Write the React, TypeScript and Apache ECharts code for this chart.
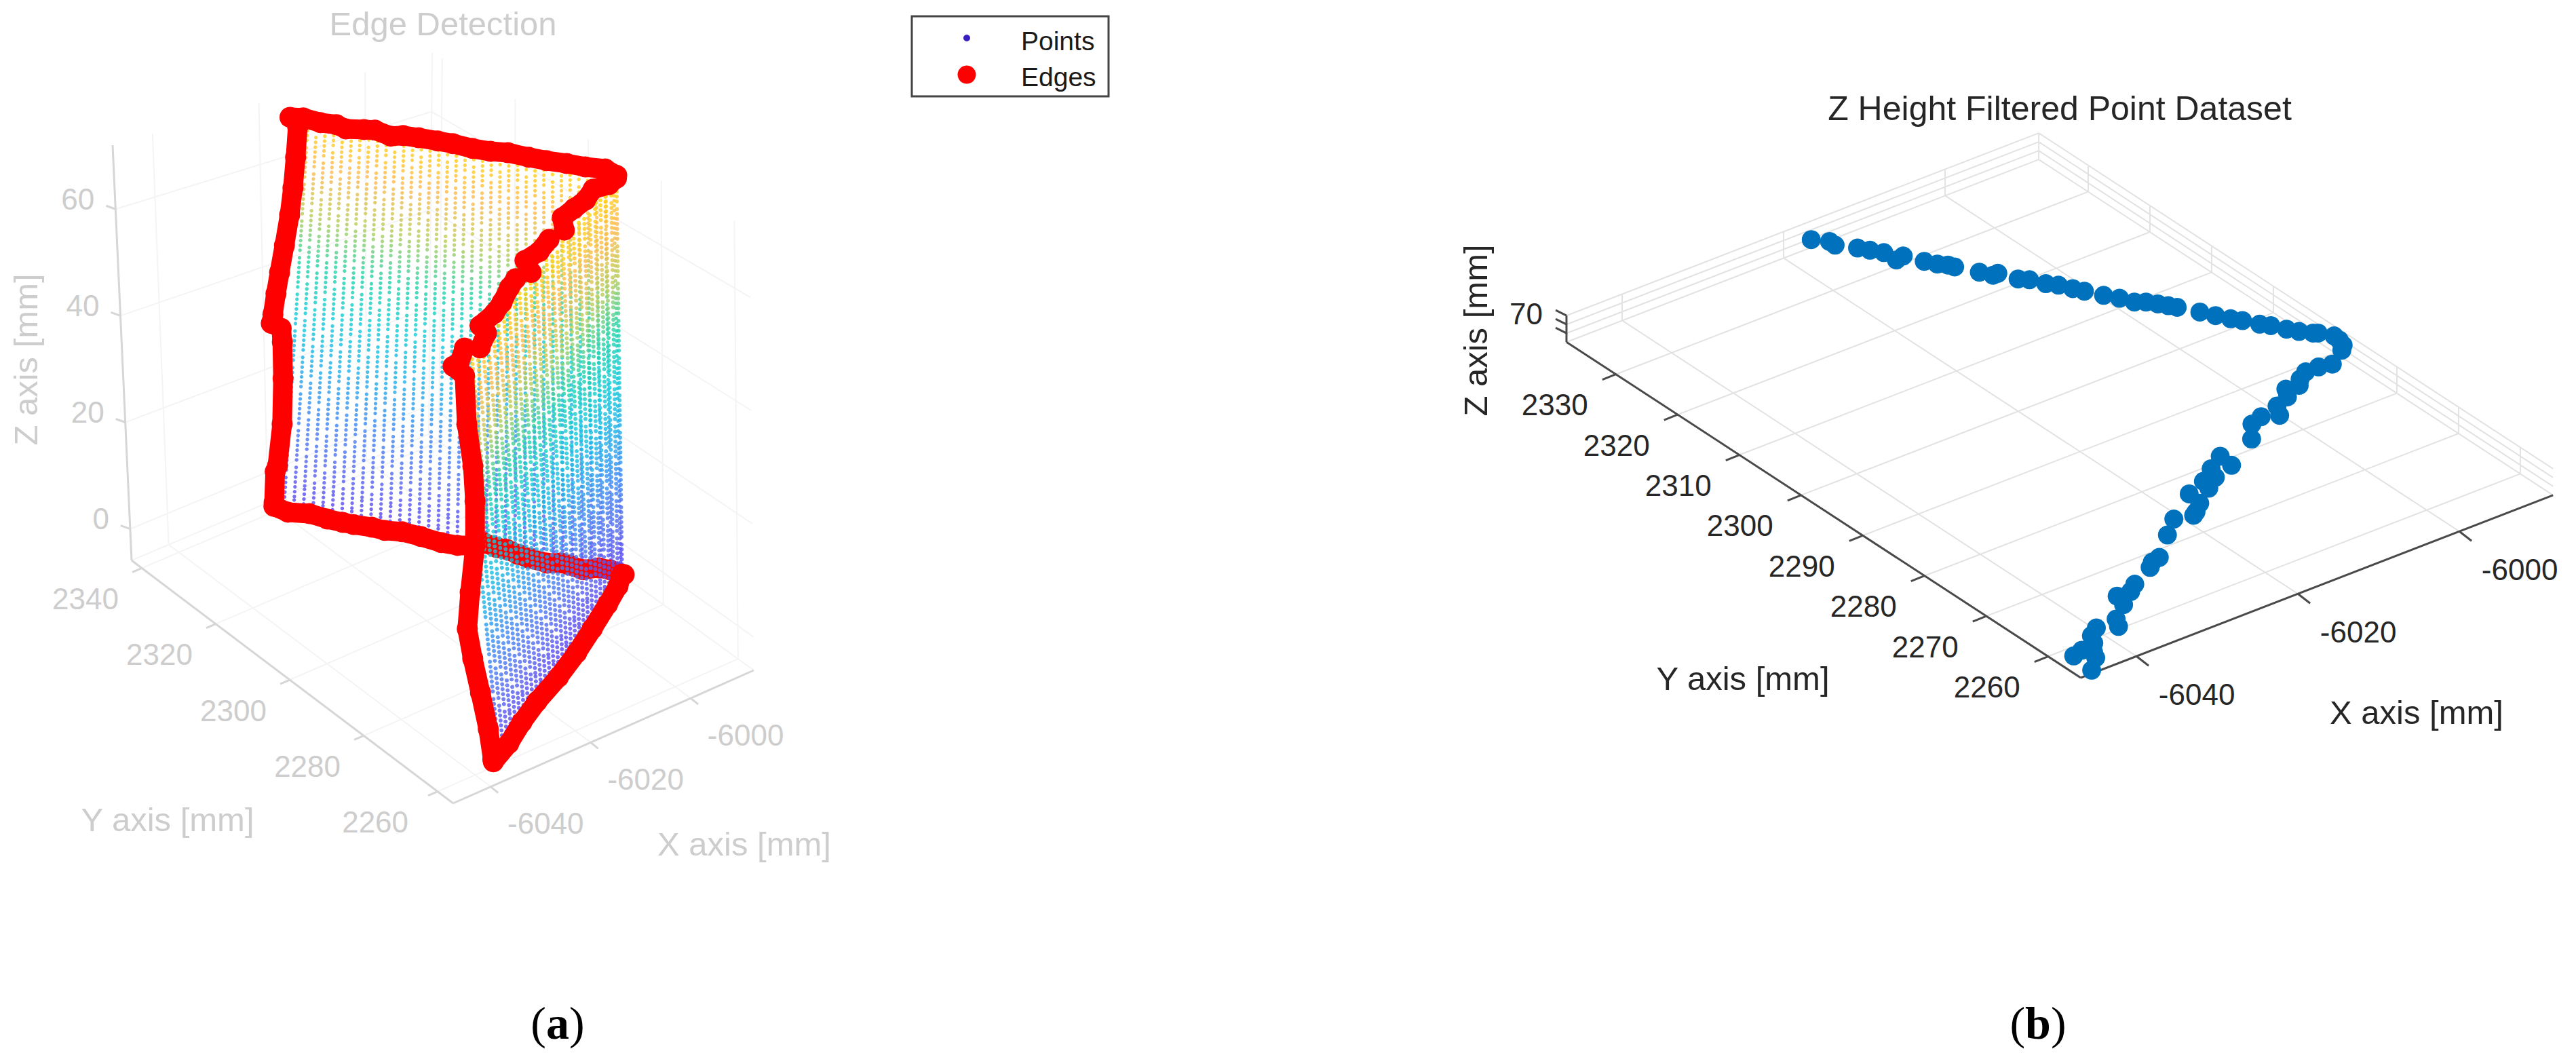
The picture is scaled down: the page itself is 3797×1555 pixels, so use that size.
import React, { useEffect, useRef } from "react";
import * as echarts from "echarts";

type P3 = [number, number, number];
type P2 = [number, number];

const PAGE_W = 3797;
const PAGE_H = 1555;

// ---- Panel (a): tick labels ----
const aXTicks = [-6040, -6020, -6000];
const aYTicks = [2260, 2280, 2300, 2320, 2340];
const aZTicks = [0, 20, 40, 60];

// ---- Panel (a): edge points [x mm, y mm, z mm] ----
const edgeOneTop: P3[] = [
  [-6017.2, 2335.9, 68], [-6015.6, 2334.5, 68], [-6014.2, 2331.7, 68], [-6012.5, 2329.7, 68], [-6012.0, 2327.8, 68],
  [-6009.8, 2325.9, 68], [-6008.5, 2324.7, 68], [-6007.5, 2321.8, 68], [-6005.8, 2320.7, 68], [-6004.2, 2318.7, 68],
  [-6002.3, 2316.1, 68], [-6000.8, 2314.0, 68], [-5999.1, 2311.0, 68], [-5997.3, 2308.6, 68], [-5995.3, 2306.6, 68],
  [-5993.4, 2303.5, 68], [-5991.7, 2301.0, 68], [-5989.6, 2298.4, 68], [-5987.8, 2295.8, 68], [-5985.6, 2293.4, 68],
  [-5985.2, 2290.8, 68],
];
const edgeOneLeft: P3[] = [
  [-6015.7, 2336, 65.5], [-6016.4, 2336, 60.1], [-6017.2, 2336, 54.7], [-6018.1, 2336, 50.0], [-6019.4, 2336, 44.8],
  [-6020.6, 2336, 40.2], [-6021.5, 2336, 36.6], [-6022.3, 2336, 33.0], [-6022.7, 2336, 31.5], [-6020.8, 2336, 29.8],
  [-6020.7, 2336, 27.2], [-6020.9, 2336, 20.4], [-6021.5, 2336, 12.1], [-6022.8, 2336, 4.8], [-6023.3, 2336, 3.9],
  [-6023.8, 2336, -1.7],
];
const edgeOneBottom: P3[] = [
  [-6025.9, 2333.1, 0], [-6025.1, 2330.4, 0], [-6022.6, 2328.0, 0], [-6021.2, 2325.0, 0], [-6019.8, 2322.7, 0],
  [-6018.8, 2321.2, 0], [-6016.9, 2318.8, 0], [-6015.8, 2316.8, 0], [-6013.8, 2314.8, 0], [-6012.2, 2311.9, 0],
  [-6010.6, 2308.5, 0], [-6009.0, 2306.3, 0], [-6006.4, 2304.3, 0], [-6005.2, 2304.3, 0], [-6004.3, 2301.9, 0],
  [-6003.4, 2300.6, 0], [-6002.8, 2298.4, 0], [-6002.0, 2296.4, 0], [-6000.5, 2293.5, 0], [-5998.7, 2292.2, 0],
  [-5998.0, 2290.9, 0], [-5997.0, 2288.5, 0], [-5994.7, 2287.4, 0], [-5993.6, 2285.8, 0], [-5992.6, 2283.4, 0],
];
const edgeTwoTopA: P3[] = [
  [-5985.7, 2290.2, 68], [-5987.7, 2289.5, 68], [-5990.5, 2290.0, 68], [-5993.3, 2288.3, 68], [-5996.2, 2287.5, 68],
  [-5999.2, 2286.6, 68], [-6001.0, 2283.6, 68],
];
const edgeTwoTopB: P3[] = [
  [-6004.5, 2283.0, 68], [-6007.8, 2281.2, 68], [-6011.1, 2280.6, 68], [-6012.3, 2277.3, 68],
];
const edgeTwoTopC: P3[] = [
  [-6015.3, 2277.4, 68], [-6017.6, 2276.0, 68], [-6021.0, 2273.4, 68], [-6023.8, 2271.7, 68], [-6027.7, 2270.3, 68],
  [-6028.1, 2268.0, 68], [-6031.4, 2265.3, 68],
];
const edgeTwoVertical: P3[] = [
  [-6033.4, 2266.8, 68], [-6036.7, 2263.8, 68], [-6037.9, 2263.8, 68], [-6037.0, 2262, 66.8], [-6037.0, 2262, 57.7],
  [-6036.2, 2262, 49.5], [-6036.1, 2262, 42.9], [-6036.5, 2262, 34.7], [-6037.9, 2262, 26.5], [-6038.8, 2262, 20.0],
  [-6038.0, 2262, 14.1], [-6036.8, 2262, 7.2], [-6035.6, 2262, -0.1], [-6035.0, 2262, -6.0],
];
const edgeTwoBottom: P3[] = [
  [-5992.8, 2283.7, 0], [-5995.3, 2281.4, 0], [-5999.7, 2278.3, 0], [-6005.7, 2274.3, 0], [-6011.7, 2270.4, 0],
  [-6018.1, 2266.7, 0], [-6024.9, 2263.3, 0], [-6030.3, 2260.1, 0], [-6035.5, 2256.6, 0], [-6040.5, 2254.0, 0],
];

// ---- Panel (a): the dense point cloud. Its thousands of dots cannot be read one by one, so it
// is sampled on a scan lattice: wall end points read off the picture, plus the stations and
// heights listed here. It reproduces the look of the cloud, not each individual dot. ----
const wallOneBottomEnds: [P2, P2] = [[-6025.0, 2332.5], [-5992.6, 2283.4]];
const wallOneTopEnds: [P2, P2] = [[-6015.2, 2334.5], [-5985.2, 2290.8]];
const wallOneStations = [
  0.01, 0.038, 0.066, 0.094, 0.122, 0.15, 0.178, 0.206, 0.234, 0.262, 0.29, 0.318, 0.346, 0.374, 0.402, 0.43, 0.458,
  0.486, 0.514, 0.542, 0.57, 0.598, 0.626, 0.654, 0.682, 0.71, 0.738, 0.766, 0.794, 0.822, 0.85, 0.878, 0.906, 0.934,
  0.962, 0.99,
];
const wallTwoBottomEnds: [P2, P2] = [[-5992.8, 2283.7], [-6040.5, 2254.0]];
const wallTwoTopEnds: [P2, P2] = [[-5985.7, 2290.2], [-6037.9, 2263.8]];
const wallTwoStations = [
  0.0, 0.033, 0.066, 0.099, 0.132, 0.165, 0.198, 0.231, 0.264, 0.297, 0.33, 0.363, 0.396, 0.429, 0.462, 0.495, 0.528,
  0.561, 0.594, 0.627, 0.66, 0.693, 0.726, 0.759, 0.792, 0.825, 0.858, 0.891, 0.924, 0.957,
];
const scanHeights = [
  0.0, 0.85, 1.7, 2.55, 3.4, 4.25, 5.1,
  6.4, 7.25, 8.1, 8.95, 9.8, 10.65, 11.5,
  12.8, 13.65, 14.5, 15.35, 16.2, 17.05, 17.9,
  19.2, 20.05, 20.9, 21.75, 22.6, 23.45, 24.3,
  25.6, 26.45, 27.3, 28.15, 29.0, 29.85, 30.7,
  32.0, 32.85, 33.7, 34.55, 35.4, 36.25, 37.1,
  38.4, 39.25, 40.1, 40.95, 41.8, 42.65, 43.5,
  44.8, 45.65, 46.5, 47.35, 48.2, 49.05, 49.9,
  51.2, 52.05, 52.9, 53.75, 54.6, 55.45, 56.3,
  57.6, 58.45, 59.3, 60.15, 61.0, 61.85, 62.7,
  64.0, 64.85, 65.7, 66.55, 67.4,
];
const columnStagger = [0, 2.1, 4.3];
const cloudColors = ["#5a3ff0", "#5468f0", "#3d88f2", "#1fb0e8", "#12cbd8", "#20d2a8", "#b8cc58", "#ffb84d", "#ffd400"];

// ---- Panel (b): tick labels ----
const bXTicks = [-6040, -6020, -6000];
const bYTicks = [2260, 2270, 2280, 2290, 2300, 2310, 2320, 2330];
const bZTicks = [68, 69, 70];

// ---- Panel (b): filtered points [x mm, y mm] at the top height ----
const filteredHeight = 70;
const filteredPoints: P2[] = [
  [-6018.8, 2335.1], [-6017.6, 2333.7], [-6017.6, 2332.8], [-6016.2, 2331.0], [-6015.5, 2329.9], [-6014.7, 2328.7],
  [-6014.6, 2326.8], [-6013.6, 2327.0], [-6012.6, 2324.9], [-6011.9, 2323.7], [-6011.2, 2322.9], [-6010.9, 2322.2],
  [-6009.6, 2319.9], [-6008.9, 2318.6], [-6008.3, 2318.6], [-6007.4, 2316.5], [-6006.6, 2315.7], [-6005.8, 2314.1],
  [-6005.0, 2313.1], [-6004.3, 2311.7], [-6003.7, 2310.6], [-6002.7, 2308.8], [-6001.8, 2307.4], [-6001.1, 2305.9],
  [-6000.2, 2305.2], [-5999.5, 2304.2], [-5998.9, 2303.3], [-5998.4, 2302.5], [-5997.2, 2300.4], [-5996.4, 2298.9],
  [-5995.6, 2297.5], [-5994.9, 2296.5], [-5994.0, 2294.9], [-5993.3, 2294.0], [-5992.5, 2292.5], [-5991.8, 2291.4],
  [-5990.9, 2290.3], [-5990.5, 2290.0], [-5989.6, 2288.6], [-5989.7, 2287.6], [-5990.0, 2286.6], [-5990.7, 2285.9],
  [-5993.1, 2284.3], [-5994.5, 2284.7], [-5996.1, 2284.7], [-5997.4, 2283.9], [-5998.2, 2283.0], [-5999.7, 2283.2],
  [-6000.5, 2281.9], [-6002.4, 2281.1], [-6003.3, 2279.5], [-6004.9, 2280.4], [-6006.5, 2279.8], [-6008.3, 2277.5],
  [-6012.8, 2276.7], [-6013.0, 2274.6], [-6015.0, 2275.3], [-6015.7, 2273.7], [-6017.1, 2273.8], [-6017.5, 2272.4],
  [-6019.7, 2272.7], [-6020.0, 2270.6], [-6021.3, 2269.5], [-6021.9, 2269.1], [-6023.9, 2269.7], [-6026.3, 2267.6],
  [-6029.6, 2264.6], [-6030.7, 2264.3], [-6031.5, 2263.6], [-6034.7, 2261.9], [-6035.9, 2261.0], [-6037.5, 2261.1],
  [-6038.0, 2259.4], [-6040.3, 2257.6], [-6041.0, 2256.3], [-6042.9, 2257.4], [-6044.2, 2256.5], [-6044.9, 2255.2],
  [-6046.7, 2254.8], [-6048.0, 2254.4], [-6046.0, 2253.8], [-6046.5, 2252.8], [-6048.3, 2251.1],
];

// ---- Axis extents ----
const aRange = { xMin: -6047.5, xMax: -5987.4, yMin: 2255.8, yMax: 2342.75, zMin: -5.9, zMax: 72 };
const bRange = { xMin: -6046.9, xMax: -5988.4, yMin: 2254.7, yMax: 2338, zMin: 67, zMax: 70 };

// Oblique view of panel (a) used for the data.
const projectA = ([x, y, z]: P3): P2 => [
  668 + 7.37 * (x - aRange.xMin) - 5.45 * (y - aRange.yMin) - 0.37 * (z - aRange.zMin),
  1184 - 3.2 * (x - aRange.xMin) - 4.17 * (y - aRange.yMin) - 7.85 * (z - aRange.zMin),
];

// The box of panel (a) is seen in slight perspective, so it is mapped from its eight corners.
const aCorners = {
  c000: [668, 1184], c100: [1111, 988], c010: [194, 826], c110: [632, 640],
  c001: [650, 520], c101: [1105, 338], c011: [166, 214], c111: [637, 78],
};
const frameA = ([x, y, z]: P3): P2 => {
  const t = (x - aRange.xMin) / (aRange.xMax - aRange.xMin);
  const u = (y - aRange.yMin) / (aRange.yMax - aRange.yMin);
  const v = (z - aRange.zMin) / (aRange.zMax - aRange.zMin);
  const c = aCorners;
  const at = (i: number) =>
    (1 - v) * ((1 - u) * ((1 - t) * c.c000[i] + t * c.c100[i]) + u * ((1 - t) * c.c010[i] + t * c.c110[i])) +
    v * ((1 - u) * ((1 - t) * c.c001[i] + t * c.c101[i]) + u * ((1 - t) * c.c011[i] + t * c.c111[i]));
  return [at(0), at(1)];
};

// Oblique view of panel (b).
const projectB = ([x, y, z]: P3): P2 => [
  3067 + 11.9 * (x - bRange.xMin) - 9.1 * (y - bRange.yMin),
  999 - 4.6 * (x - bRange.xMin) - 5.94 * (y - bRange.yMin) - 13 * (z - bRange.zMin),
];

type Range = typeof aRange;

const gridSegments = (r: Range, xs: number[], ys: number[], zs: number[], proj: (p: P3) => P2): P2[][] => {
  const segs: P2[][] = [];
  const seg = (a: P3, b: P3) => segs.push([proj(a), proj(b)]);
  for (const y of [...ys, r.yMax]) seg([r.xMin, y, r.zMin], [r.xMax, y, r.zMin]);
  for (const x of [...xs, r.xMax]) seg([x, r.yMin, r.zMin], [x, r.yMax, r.zMin]);
  for (const x of xs) seg([x, r.yMax, r.zMin], [x, r.yMax, r.zMax]);
  for (const y of ys) seg([r.xMax, y, r.zMin], [r.xMax, y, r.zMax]);
  for (const z of zs) {
    seg([r.xMin, r.yMax, z], [r.xMax, r.yMax, z]);
    seg([r.xMax, r.yMax, z], [r.xMax, r.yMin, z]);
  }
  seg([r.xMax, r.yMax, r.zMin], [r.xMax, r.yMax, r.zMax]);
  return segs;
};

const axisSegments = (
  r: Range, xs: number[], ys: number[], zs: number[], proj: (p: P3) => P2,
  xStub: P2, yStub: P2, zStub: P2,
): P2[][] => {
  const segs: P2[][] = [
    [proj([r.xMin, r.yMin, r.zMin]), proj([r.xMax, r.yMin, r.zMin])],
    [proj([r.xMin, r.yMin, r.zMin]), proj([r.xMin, r.yMax, r.zMin])],
    [proj([r.xMin, r.yMax, r.zMin]), proj([r.xMin, r.yMax, r.zMax])],
  ];
  const stub = (p: P2, s: P2) => segs.push([p, [p[0] + s[0], p[1] + s[1]]]);
  xs.forEach((x) => stub(proj([x, r.yMin, r.zMin]), xStub));
  ys.forEach((y) => stub(proj([r.xMin, y, r.zMin]), yStub));
  zs.forEach((z) => stub(proj([r.xMin, r.yMax, z]), zStub));
  return segs;
};

const lineSeries = (segs: P2[][], color: string, width: number) => ({
  type: "line",
  silent: true,
  symbol: "none",
  clip: false,
  connectNulls: false,
  lineStyle: { color, width },
  data: segs.flatMap((s) => [...s, [NaN, NaN]]),
});

const edgeSeries = (pts: P3[]) => ({
  name: "Edges",
  type: "line",
  silent: true,
  clip: false,
  symbol: "circle",
  symbolSize: 31,
  itemStyle: { color: "#ff0000" },
  lineStyle: { color: "#ff0000", width: 29 },
  data: pts.map(projectA),
});

const cloud = (stations: number[], bottom: [P2, P2], top: [P2, P2]) => {
  const out: number[][] = [];
  stations.forEach((f, i) => {
    for (const h0 of scanHeights) {
      const h = (h0 + columnStagger[i % columnStagger.length]) % 68;
      const k = h / 68;
      const bx = bottom[0][0] + f * (bottom[1][0] - bottom[0][0]);
      const by = bottom[0][1] + f * (bottom[1][1] - bottom[0][1]);
      const tx = top[0][0] + f * (top[1][0] - top[0][0]);
      const ty = top[0][1] + f * (top[1][1] - top[0][1]);
      const [sx, sy] = projectA([bx + k * (tx - bx), by + k * (ty - by), h]);
      out.push([sx, sy, h]);
    }
  });
  return out;
};

const cloudSeries = (data: number[][], size: number) => ({
  name: "Points",
  type: "scatter",
  silent: true,
  clip: false,
  progressive: 0,
  symbolSize: size,
  data,
});

const SANS = '"Liberation Sans", Arial, sans-serif';
const text = (
  t: string, x: number, y: number, size: number, fill: string,
  align: string = "center", rotation = 0,
) => ({
  type: "text",
  x,
  y,
  rotation,
  silent: true,
  style: { text: t, fill, font: `${size}px ${SANS}`, textAlign: align, textVerticalAlign: "middle" },
});

const caption = (letter: string, x: number, y: number) => ({
  type: "text",
  x,
  y,
  silent: true,
  style: {
    text: `({b|${letter}})`,
    fill: "#000000",
    font: '68px "Liberation Serif", serif',
    textAlign: "center",
    textVerticalAlign: "middle",
    rich: { b: { font: 'bold 68px "Liberation Serif", serif', fill: "#000000" } },
  },
});

const buildOption = () => {
  const aGrey = "#cdcdcd";
  const bInk = "#262626";
  const graphics: any[] = [
    text("Edge Detection", 653, 35, 49, aGrey),
    text("X axis [mm]", 1097, 1244, 49, aGrey),
    text("Y axis [mm]", 247, 1208, 49, aGrey),
    text("Z axis [mm]", 38, 530, 49, aGrey, "center", Math.PI / 2),
    text("Z Height Filtered Point Dataset", 3036, 160, 50, bInk),
    text("X axis [mm]", 3562, 1050, 49, bInk),
    text("Y axis [mm]", 2569, 1000, 49, bInk),
    text("Z axis [mm]", 2175, 487, 49, bInk, "center", Math.PI / 2),
    { type: "rect", shape: { x: 1344, y: 24, width: 290, height: 118 }, silent: true, style: { fill: "#ffffff", stroke: "#444444", lineWidth: 3 } },
    { type: "circle", shape: { cx: 1425, cy: 56, r: 5 }, silent: true, style: { fill: "#3a1fc4" } },
    { type: "circle", shape: { cx: 1425, cy: 110, r: 13.5 }, silent: true, style: { fill: "#ff0000" } },
    text("Points", 1505, 60, 39, "#1a1a1a", "left"),
    text("Edges", 1505, 113, 39, "#1a1a1a", "left"),
    caption("a", 822, 1508),
    caption("b", 3004, 1508),
  ];

  aXTicks.forEach((v) => {
    const [x, y] = frameA([v, aRange.yMin, aRange.zMin]);
    graphics.push(text(String(v), x + 81, y + 54, 44, aGrey));
  });
  aYTicks.forEach((v) => {
    const [x, y] = frameA([aRange.xMin, v, aRange.zMin]);
    graphics.push(text(String(v), x + (v === 2260 ? -92 : -83), y + 45, 44, aGrey));
  });
  aZTicks.forEach((v) => {
    const [x, y] = frameA([aRange.xMin, aRange.yMax, v]);
    graphics.push(text(String(v), x - 31, y - 15, 44, aGrey, "right"));
  });
  bXTicks.forEach((v) => {
    const [x, y] = projectB([v, bRange.yMin, bRange.zMin]);
    graphics.push(text(String(v), x + 89, y + 56, 44, bInk));
  });
  bYTicks.forEach((v) => {
    const [x, y] = projectB([bRange.xMin, v, bRange.zMin]);
    graphics.push(text(String(v), x - 90, y + 45, 44, bInk));
  });
  {
    const [x, y] = projectB([bRange.xMin, bRange.yMax, 70]);
    graphics.push(text("70", x - 35, y - 3, 44, bInk, "right"));
  }

  const layers: any[] = [
    lineSeries(gridSegments(aRange, aXTicks, aYTicks, aZTicks, frameA), "#f4f4f4", 2),
    lineSeries(axisSegments(aRange, aXTicks, aYTicks, aZTicks, frameA, [11, 9], [-14, 6], [-14, -5]), "#d6d6d6", 3),
    lineSeries(gridSegments(bRange, bXTicks, bYTicks, bZTicks, projectB), "#e2e2e2", 2),
    lineSeries(axisSegments(bRange, bXTicks, bYTicks, bZTicks, projectB, [18, 14], [-20, 8], [-16, -8]), "#4a4a4a", 3),
    cloudSeries(cloud(wallOneStations, wallOneBottomEnds, wallOneTopEnds), 5.4),
    edgeSeries(edgeOneBottom),
    cloudSeries(cloud(wallTwoStations, wallTwoBottomEnds, wallTwoTopEnds), 6),
    edgeSeries(edgeOneTop),
    edgeSeries(edgeOneLeft),
    edgeSeries(edgeTwoTopA),
    edgeSeries(edgeTwoTopB),
    edgeSeries(edgeTwoTopC),
    edgeSeries(edgeTwoVertical),
    edgeSeries(edgeTwoBottom),
    {
      name: "Filtered",
      type: "scatter",
      silent: true,
      clip: false,
      symbolSize: 28,
      itemStyle: { color: "#0072bd", opacity: 1 },
      data: filteredPoints.map(([x, y]) => projectB([x, y, filteredHeight])),
    },
  ];
  // Line and scatter series have different default z, so the drawing order is set explicitly.
  const series = layers.map((s, i) => ({ ...s, z: i + 1 }));

  return {
    animation: false,
    backgroundColor: "#ffffff",
    grid: { left: 0, top: 0, right: 0, bottom: 0 },
    xAxis: { type: "value", min: 0, max: PAGE_W, show: false },
    yAxis: { type: "value", min: 0, max: PAGE_H, inverse: true, show: false },
    visualMap: {
      show: false,
      type: "continuous",
      dimension: 2,
      min: 0,
      max: 68,
      seriesIndex: [4, 6],
      inRange: { color: cloudColors },
    },
    graphic: graphics,
    series,
  };
};

export default function App() {
  const ref = useRef<HTMLDivElement>(null);
  useEffect(() => {
    const chart = echarts.init(ref.current!, undefined, { renderer: "svg" });
    chart.setOption(buildOption() as any);
    return () => chart.dispose();
  }, []);
  return <div ref={ref} style={{ position: "absolute", left: 0, top: 0, width: PAGE_W, height: PAGE_H }} />;
}
